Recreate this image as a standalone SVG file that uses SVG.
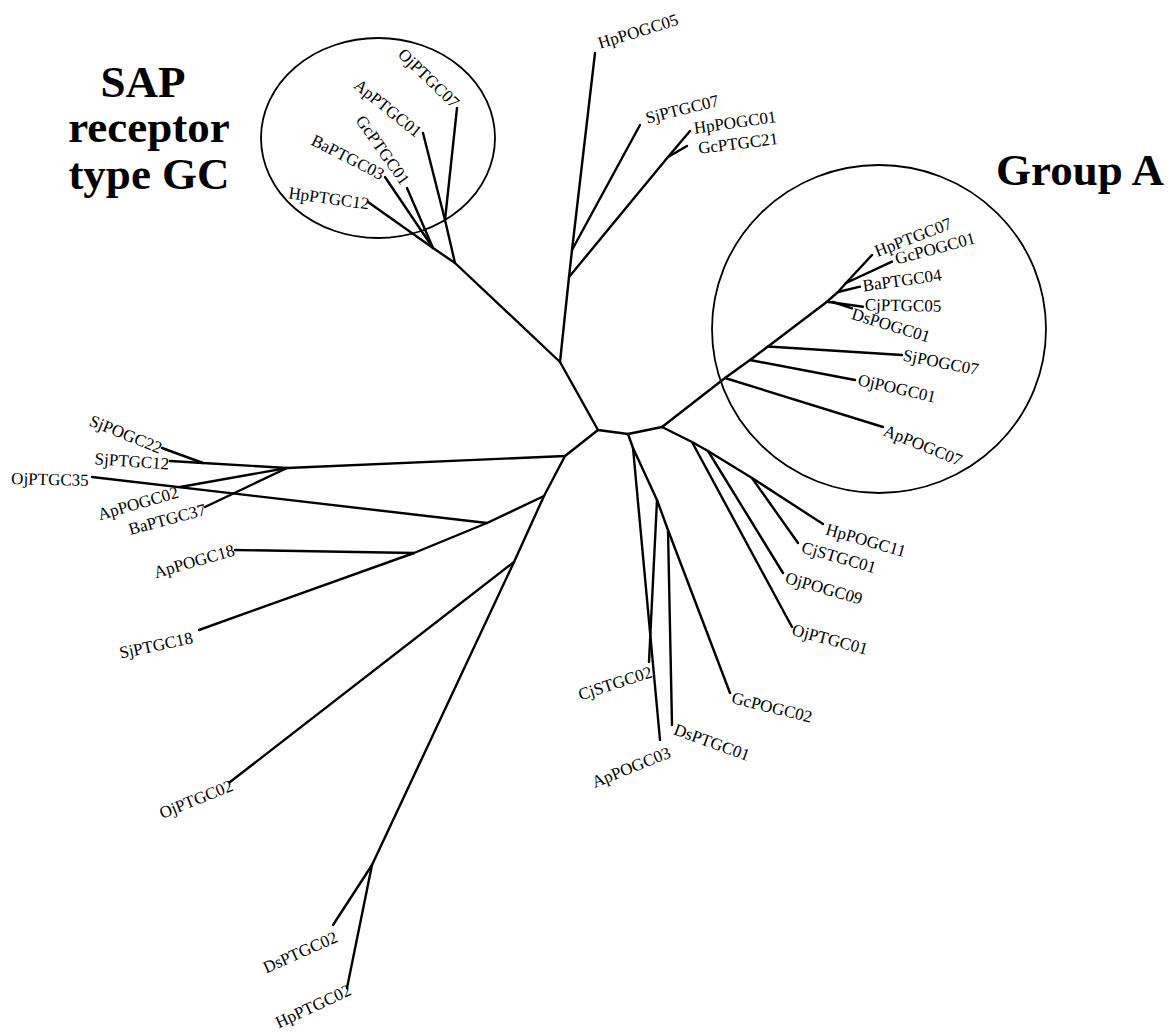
<svg xmlns="http://www.w3.org/2000/svg" width="1171" height="1033" viewBox="0 0 1171 1033">
<style>
.e{fill:none;stroke:#000;stroke-width:2.4;stroke-linecap:round;stroke-linejoin:round}
.c{fill:none;stroke:#000;stroke-width:1.8}
.l{font-family:"Liberation Serif","Times New Roman",serif;font-size:17px;fill:#000;text-anchor:middle}
.t{font-family:"Liberation Serif","Times New Roman",serif;font-size:45px;font-weight:bold;fill:#000;text-anchor:middle}
</style>
<rect width="1171" height="1033" fill="#fff"/>
<g id="groups">
<g id="sap-group"><ellipse class="c" cx="378" cy="138" rx="117" ry="100"/>
<text class="t" x="143" y="97">SAP</text><text class="t" x="149" y="142">receptor</text><text class="t" x="149" y="189">type GC</text></g>
<g id="group-a"><ellipse class="c" cx="879" cy="329" rx="167" ry="164"/>
<text class="t" x="1080" y="185">Group A</text></g>
</g>
<g id="connectors">
<polyline class="e" points="560,362 598,430 628,434 662,427"/>
<polyline class="e" points="560,362 569,277 572,250 595,53"/>
<polyline class="e" points="569,277 668,157 690,131"/>
<line class="e" x1="668" y1="157" x2="687" y2="146"/>
<line class="e" x1="572" y1="250" x2="640" y2="125"/>
<polyline class="e" points="560,362 455,263 433,248 368,202"/>
<line class="e" x1="433" y1="248" x2="385" y2="177"/>
<line class="e" x1="433" y1="248" x2="407" y2="188"/>
<polyline class="e" points="455,263 445,220 423,133"/>
<line class="e" x1="445" y1="220" x2="457" y2="108"/>
<polyline class="e" points="662,427 725,378 750,360 768,346.5 827,301.7 838,292 846,283 872,255"/>
<line class="e" x1="725" y1="378" x2="883" y2="427"/>
<line class="e" x1="750" y1="360" x2="855" y2="380"/>
<line class="e" x1="768" y1="346.5" x2="902" y2="355"/>
<line class="e" x1="827" y1="301.7" x2="863" y2="306.7"/>
<line class="e" x1="833" y1="302" x2="852" y2="308.3"/>
<line class="e" x1="838" y1="292" x2="860" y2="286.7"/>
<line class="e" x1="846" y1="283" x2="892" y2="261.7"/>
<polyline class="e" points="662,427 692,442 708,451 752,478 823,524"/>
<line class="e" x1="692" y1="442" x2="792" y2="627"/>
<line class="e" x1="708" y1="451" x2="783" y2="573"/>
<line class="e" x1="752" y1="478" x2="798" y2="543"/>
<polyline class="e" points="628,434 633,448 657,500 668,530 730,693"/>
<line class="e" x1="633" y1="448" x2="660" y2="740"/>
<line class="e" x1="657" y1="500" x2="649" y2="662"/>
<line class="e" x1="668" y1="530" x2="672" y2="725"/>
<polyline class="e" points="598,430 565,456 287,468 180,487"/>
<line class="e" x1="287" y1="468" x2="205" y2="507"/>
<polyline class="e" points="287,468 203,463 162,448"/>
<line class="e" x1="203" y1="463" x2="170" y2="461"/>
<polyline class="e" points="565,456 544,496 514,562 372,865"/>
<polyline class="e" points="544,496 487,523 414,553 199,630"/>
<line class="e" x1="487" y1="523" x2="92" y2="477"/>
<line class="e" x1="414" y1="553" x2="235" y2="550"/>
<line class="e" x1="514" y1="562" x2="230" y2="782"/>
<line class="e" x1="372" y1="865" x2="333" y2="925"/>
<line class="e" x1="372" y1="865" x2="347" y2="988"/>
</g>
<g id="leaves">
<g id="OjPTGC07"><text class="l" dy="0.35em" transform="translate(429,78) rotate(44)">OjPTGC07</text></g>
<g id="ApPTGC01"><text class="l" dy="0.35em" transform="translate(388,108) rotate(39)">ApPTGC01</text></g>
<g id="GcPTGC01"><text class="l" dy="0.35em" transform="translate(383,150) rotate(55)">GcPTGC01</text></g>
<g id="BaPTGC03"><text class="l" dy="0.35em" transform="translate(348,157) rotate(27)">BaPTGC03</text></g>
<g id="HpPTGC12"><text class="l" dy="0.35em" transform="translate(329,198) rotate(8)">HpPTGC12</text></g>
<g id="HpPOGC05"><text class="l" dy="0.35em" transform="translate(638,31) rotate(-17)">HpPOGC05</text></g>
<g id="SjPTGC07"><text class="l" dy="0.35em" transform="translate(682,109) rotate(-14)">SjPTGC07</text></g>
<g id="HpPOGC01"><text class="l" dy="0.35em" transform="translate(735,122) rotate(-8)">HpPOGC01</text></g>
<g id="GcPTGC21"><text class="l" dy="0.35em" transform="translate(738,143) rotate(-7)">GcPTGC21</text></g>
<g id="HpPTGC07"><text class="l" dy="0.35em" transform="translate(913,237) rotate(-21)">HpPTGC07</text></g>
<g id="GcPOGC01"><text class="l" dy="0.35em" transform="translate(935,248) rotate(-15)">GcPOGC01</text></g>
<g id="BaPTGC04"><text class="l" dy="0.35em" transform="translate(902,280) rotate(-8)">BaPTGC04</text></g>
<g id="CjPTGC05"><text class="l" dy="0.35em" transform="translate(903,305) rotate(1)">CjPTGC05</text></g>
<g id="DsPOGC01"><text class="l" dy="0.35em" transform="translate(891,325) rotate(17)">DsPOGC01</text></g>
<g id="SjPOGC07"><text class="l" dy="0.35em" transform="translate(941,362) rotate(11)">SjPOGC07</text></g>
<g id="OjPOGC01"><text class="l" dy="0.35em" transform="translate(897,388) rotate(13)">OjPOGC01</text></g>
<g id="ApPOGC07"><text class="l" dy="0.35em" transform="translate(923,445) rotate(22)">ApPOGC07</text></g>
<g id="HpPOGC11"><text class="l" dy="0.35em" transform="translate(866,540) rotate(16)">HpPOGC11</text></g>
<g id="CjSTGC01"><text class="l" dy="0.35em" transform="translate(839,557) rotate(16)">CjSTGC01</text></g>
<g id="OjPOGC09"><text class="l" dy="0.35em" transform="translate(824,588) rotate(16)">OjPOGC09</text></g>
<g id="OjPTGC01"><text class="l" dy="0.35em" transform="translate(830,639) rotate(15)">OjPTGC01</text></g>
<g id="GcPOGC02"><text class="l" dy="0.35em" transform="translate(772,707) rotate(14)">GcPOGC02</text></g>
<g id="DsPTGC01"><text class="l" dy="0.35em" transform="translate(712,742) rotate(20)">DsPTGC01</text></g>
<g id="ApPOGC03"><text class="l" dy="0.35em" transform="translate(631,767) rotate(-22)">ApPOGC03</text></g>
<g id="CjSTGC02"><text class="l" dy="0.35em" transform="translate(615,683) rotate(-18)">CjSTGC02</text></g>
<g id="SjPOGC22"><text class="l" dy="0.35em" transform="translate(126,434) rotate(22)">SjPOGC22</text></g>
<g id="SjPTGC12"><text class="l" dy="0.35em" transform="translate(132,461) rotate(4)">SjPTGC12</text></g>
<g id="OjPTGC35"><text class="l" dy="0.35em" transform="translate(50,479) rotate(1.5)">OjPTGC35</text></g>
<g id="ApPOGC02"><text class="l" dy="0.35em" transform="translate(138,503) rotate(-16)">ApPOGC02</text></g>
<g id="BaPTGC37"><text class="l" dy="0.35em" transform="translate(167,519) rotate(-15)">BaPTGC37</text></g>
<g id="ApPOGC18"><text class="l" dy="0.35em" transform="translate(194,561) rotate(-16)">ApPOGC18</text></g>
<g id="SjPTGC18"><text class="l" dy="0.35em" transform="translate(156,645) rotate(-12)">SjPTGC18</text></g>
<g id="OjPTGC02"><text class="l" dy="0.35em" transform="translate(196,799) rotate(-22)">OjPTGC02</text></g>
<g id="DsPTGC02"><text class="l" dy="0.35em" transform="translate(300,952) rotate(-24)">DsPTGC02</text></g>
<g id="HpPTGC02"><text class="l" dy="0.35em" transform="translate(313,1006) rotate(-25)">HpPTGC02</text></g>
</g>
</svg>
